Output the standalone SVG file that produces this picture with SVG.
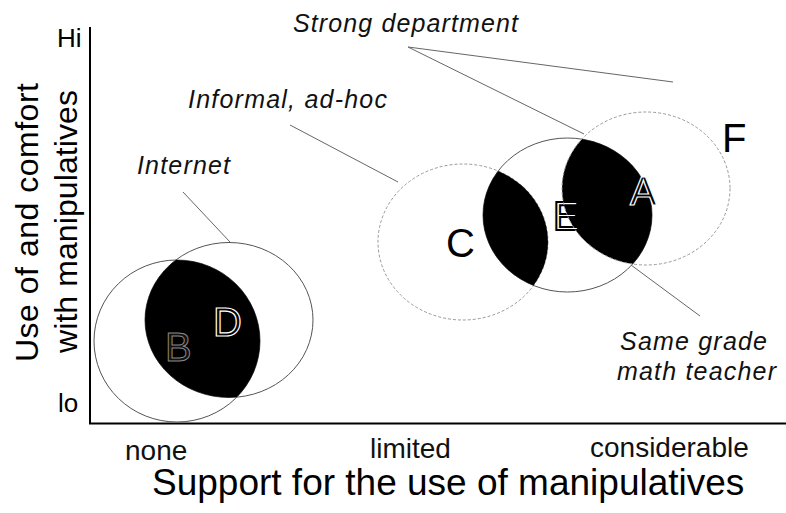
<svg xmlns="http://www.w3.org/2000/svg" width="786" height="513" viewBox="0 0 786 513">
<style>
text{font-family:"Liberation Sans",Arial,sans-serif;}
.lbl{font-style:italic;font-size:25px;fill:#111;}
.tick{font-size:28px;fill:#111;}
.big{font-size:40px;}
.ax{stroke:#000;stroke-width:2;fill:none;}
.c-solid{fill:none;stroke:#555;stroke-width:1;}
.c-dash{fill:none;stroke:#999;stroke-width:1;stroke-dasharray:3 2;}
.lens{fill:#000;}
.conn line{stroke:#666;stroke-width:1;}
</style>
<defs>
<clipPath id="clipB"><ellipse cx="177" cy="341" rx="83" ry="81"/></clipPath>
<clipPath id="clipC"><ellipse cx="463" cy="242" rx="85" ry="78"/></clipPath>
<clipPath id="clipF"><ellipse cx="646" cy="188.5" rx="84" ry="76.5"/></clipPath>
</defs>
<rect width="786" height="513" fill="#fff"/>

<g id="axes">
<line class="ax" x1="90" y1="27" x2="90" y2="424"/>
<line class="ax" x1="89" y1="423.5" x2="786" y2="423.5"/>
<text x="57" y="47" style="font-size:26px">Hi</text>
<text x="58" y="412" style="font-size:26px">lo</text>
<text transform="translate(38,362) rotate(-90)" style="font-size:32px" textLength="279" lengthAdjust="spacing">Use of  and comfort</text>
<text transform="translate(77,353) rotate(-90)" style="font-size:32px" textLength="263" lengthAdjust="spacing">with manipulatives</text>
<text class="tick" x="125" y="460">none</text>
<text class="tick" x="370" y="458">limited</text>
<text class="tick" x="590" y="457">considerable</text>
<text x="152" y="495" style="font-size:37px">Support for the use of manipulatives</text>
</g>

<g id="node-B">
<ellipse class="c-solid" cx="177" cy="341" rx="83" ry="81"/>
</g>
<g id="node-D">
<ellipse class="c-solid" cx="229" cy="320" rx="84" ry="77.5"/>
<ellipse class="lens" cx="229" cy="320" rx="84" ry="77.5" clip-path="url(#clipB)"/>
<text class="big" x="165" y="361" style="fill:#111;stroke:#888;stroke-width:1">B</text>
<text class="big" x="213" y="336" style="fill:#000;stroke:#fff;stroke-width:1.2">D</text>
</g>

<g id="node-C">
<ellipse class="c-dash" cx="463" cy="242" rx="85" ry="78"/>
<text class="big" x="446" y="257" style="fill:#000">C</text>
</g>
<g id="node-E">
<ellipse class="c-solid" cx="567.5" cy="215" rx="84.5" ry="77"/>
<ellipse class="lens" cx="567.5" cy="215" rx="84.5" ry="77" clip-path="url(#clipC)"/>
<ellipse class="lens" cx="567.5" cy="215" rx="84.5" ry="77" clip-path="url(#clipF)"/>
<text class="big" x="553" y="230" style="fill:#fff;stroke:#000;stroke-width:2">E</text>
</g>
<g id="node-F">
<ellipse class="c-dash" cx="646" cy="188.5" rx="84" ry="76.5"/>
<text class="big" x="630" y="205" style="fill:#000;stroke:#fff;stroke-width:1.2">A</text>
<text class="big" x="722" y="152" style="fill:#000">F</text>
</g>

<g id="labels">
<text class="lbl" x="293" y="32" textLength="225" lengthAdjust="spacing">Strong department</text>
<text class="lbl" x="188" y="108" textLength="199" lengthAdjust="spacing">Informal, ad-hoc</text>
<text class="lbl" x="137" y="174" textLength="93" lengthAdjust="spacing">Internet</text>
<text class="lbl" x="620" y="350" textLength="147" lengthAdjust="spacing">Same grade</text>
<text class="lbl" x="617" y="380" textLength="159" lengthAdjust="spacing">math teacher</text>
</g>

<g class="conn" id="connectors">
<line x1="408" y1="47" x2="673" y2="82"/>
<line x1="408" y1="47" x2="584" y2="134"/>
<line x1="290" y1="125" x2="398" y2="182"/>
<line x1="183" y1="192" x2="230" y2="242"/>
<line x1="631" y1="265" x2="700" y2="316"/>
</g>
</svg>
